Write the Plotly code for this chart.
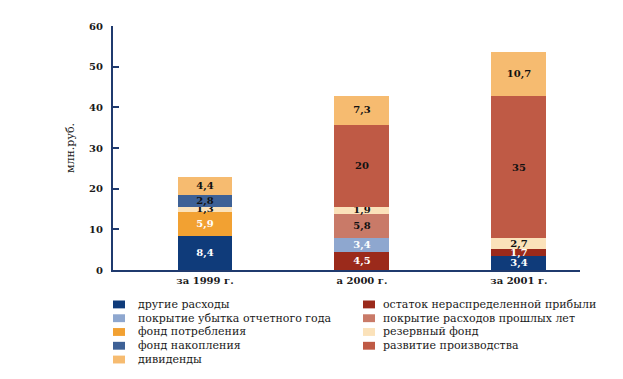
import plotly.graph_objects as go

categories = ["за 1999 г.", "а 2000 г.", "за 2001 г."]

series_names = [
    "другие расходы",
    "остаток нераспределенной прибыли",
    "покрытие убытка отчетного года",
    "покрытие расходов прошлых лет",
    "фонд потребления",
    "резервный фонд",
    "фонд накопления",
    "развитие производства",
    "дивиденды",
]

drugie = [8.4, None, 3.4]
ostatok = [None, 4.5, 1.7]
pokr_ubytka = [None, 3.4, None]
pokr_rashodov = [None, 5.8, None]
fond_potr = [5.9, None, None]
rezerv = [1.3, 1.9, 2.7]
fond_nakopl = [2.8, None, None]
razvitie = [None, 20, 35]
dividendy = [4.4, 7.3, 10.7]

series_values = [drugie, ostatok, pokr_ubytka, pokr_rashodov, fond_potr,
                 rezerv, fond_nakopl, razvitie, dividendy]

colors = ["#0f3b7a", "#9b2a1b", "#8ea7cf", "#c97a68", "#f2a132",
          "#fbe2ba", "#3e6196", "#bf5a45", "#f6bb70"]
text_colors = ["white", "white", "white", "#111111", "white",
               "#111111", "#111111", "#111111", "#111111"]

SERIF = "DejaVu Serif"

def fmt(v):
    if v is None:
        return ""
    s = f"{v:g}"
    return s.replace(".", ",")

fig = go.Figure()
for name, vals, col, tcol in zip(series_names, series_values, colors, text_colors):
    fig.add_trace(go.Bar(
        x=categories, y=vals, name=name,
        marker=dict(color=col, line=dict(width=0)),
        width=0.35,
        text=[fmt(v) for v in vals],
        textposition="inside",
        insidetextanchor="middle",
        textangle=0,
        textfont=dict(family=SERIF, size=10, color=tcol, weight="bold"),
        showlegend=False,
    ))

# page has an 8px body margin; plot area in figure pixels
OFF = 8
W, H = 623, 379
L, T = 113 - OFF, 22 - OFF
plot_right, plot_bottom = 580 - OFF, 270 - OFF
R, B = W - plot_right, H - plot_bottom
pw, ph = W - L - R, H - T - B

def px_x(x):
    return (x - OFF - L) / pw

def px_y(y):
    return (H - B - (y - OFF)) / ph

# custom compact legend (two columns), positions in screen pixels
col_pos = [(113, 136), (363, 381)]
row_y = [305, 319, 333, 347, 361]
left_col = [0, 2, 4, 6, 8]
right_col = [1, 3, 5, 7]
shapes = []
annotations = []
for c, idxs in enumerate([left_col, right_col]):
    sx, tx = col_pos[c]
    for r, i in enumerate(idxs):
        yc = row_y[r]
        shapes.append(dict(type="rect", xref="paper", yref="paper",
                           x0=px_x(sx), x1=px_x(sx + 12),
                           y0=px_y(yc + 4), y1=px_y(yc - 4),
                           fillcolor=colors[i], line=dict(width=0)))
        annotations.append(dict(xref="paper", yref="paper",
                                x=px_x(tx), y=px_y(yc), xanchor="left",
                                yanchor="middle", showarrow=False,
                                text=series_names[i],
                                font=dict(family=SERIF, size=11, color="#1a1a1a")))

fig.update_layout(
    width=W, height=H,
    margin=dict(l=L, r=R, t=T, b=B),
    paper_bgcolor="white", plot_bgcolor="white",
    barmode="stack",
    showlegend=False,
    uniformtext=dict(minsize=10, mode="show"),
    shapes=shapes,
    annotations=annotations,
    xaxis=dict(type="category", range=[-0.586, 2.389], showline=True,
               linecolor="#1f3a6e", linewidth=2, ticks="", showgrid=False,
               tickfont=dict(family=SERIF, size=10, color="#1a1a1a", weight="bold")),
    yaxis=dict(range=[0, 60], dtick=10, showline=True, linecolor="#1f3a6e",
               linewidth=2, ticks="inside", ticklen=6, tickcolor="#1f3a6e",
               tickwidth=2, showgrid=False, zeroline=False,
               ticklabelstandoff=6,
               tickfont=dict(family=SERIF, size=10, color="#1a1a1a", weight="bold"),
               title=dict(text="млн.руб.", standoff=12,
                          font=dict(family=SERIF, size=11, color="#1a1a1a"))),
    font=dict(family=SERIF),
)

fig.write_html("out.html")
